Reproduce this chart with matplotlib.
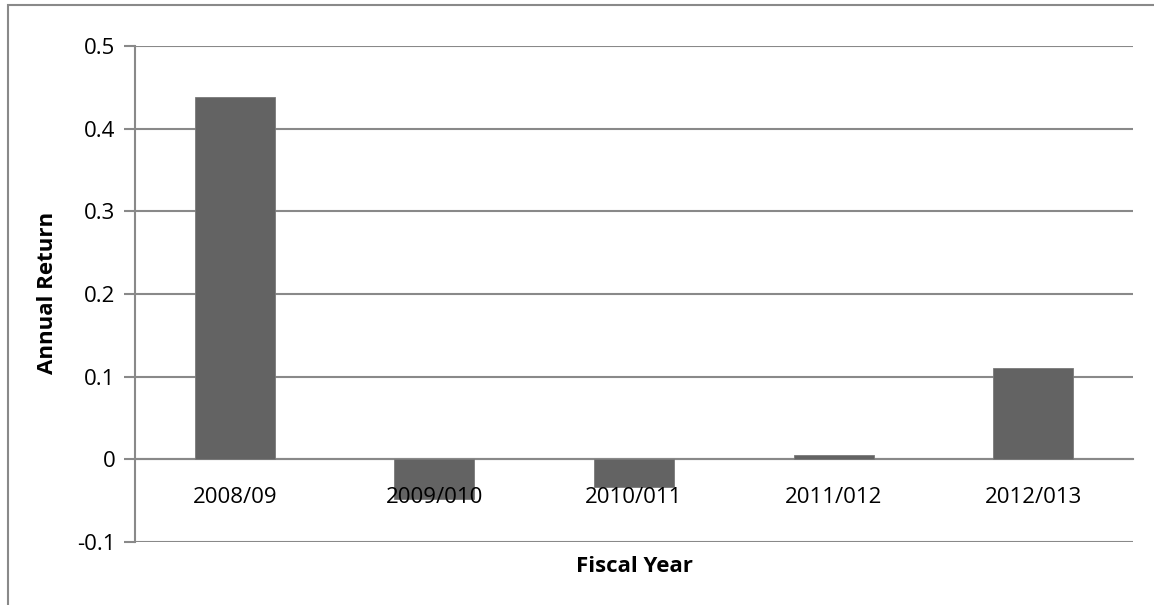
import matplotlib
matplotlib.use("Agg")
import matplotlib.pyplot as plt
from matplotlib.patches import Rectangle

categories = ["2008/09", "2009/010", "2010/011", "2011/012", "2012/013"]
returns = [0.438, -0.048, -0.0335, 0.005, 0.111]
yticks = [-0.1, 0, 0.1, 0.2, 0.3, 0.4, 0.5]
ytick_labels = ["-0.1", "0", "0.1", "0.2", "0.3", "0.4", "0.5"]

plt.rcParams['font.family'] = ['Open Sans', 'DejaVu Sans']
W, H = 1154, 605
fig = plt.figure(figsize=(W / 100, H / 100), dpi=100)
grid_c = "#898989"
fs = 16

# outer chart border (cropped at right and bottom)
fig.patches.append(Rectangle((8 / W, -0.1), 1.2, 1 - 5 / H + 0.1, transform=fig.transFigure,
                             fill=False, edgecolor=grid_c, linewidth=1.5))

ax = fig.add_axes([135 / W, 1 - 542 / H, (1133 - 135) / W, (542 - 46) / H])
ax.spines['bottom'].set_position(('data', 0))
ax.set_xlim(-0.5, len(categories) - 0.5)
ax.set_ylim(-0.1, 0.5)
x = list(range(len(categories)))
ax.bar(x, returns, width=0.4, color="#636363", edgecolor="#7a7a7a", linewidth=0.6, zorder=3)

ax.set_yticks(yticks)
ax.set_yticklabels(ytick_labels, fontsize=fs)
ax.yaxis.grid(True, color=grid_c, linewidth=1.5)
ax.set_axisbelow(True)
ax.tick_params(axis='y', length=8, width=1.5, color=grid_c, pad=6)

ax.set_xticks(x)
ax.set_xticklabels([])
ax.tick_params(axis='x', length=0)
for i, cat in enumerate(categories):
    ax.annotate(cat, (x[i], 0), xytext=(0, -31.5), textcoords='offset points',
                ha='center', va='baseline', fontsize=fs, zorder=6)

ax.spines['bottom'].set_color(grid_c)
ax.spines['bottom'].set_linewidth(1.5)
ax.spines['left'].set_color(grid_c)
ax.spines['left'].set_linewidth(1.5)
ax.spines['top'].set_visible(False)
ax.spines['right'].set_visible(False)

fig.text(48 / W, 1 - 293 / H, "Annual Return", rotation=90, ha='center', va='center',
         fontsize=fs, fontweight='bold')
fig.text(634 / W, 1 - 566 / H, "Fiscal Year", ha='center', va='center',
         fontsize=fs, fontweight='bold')

fig.savefig("out.png", dpi=100)
